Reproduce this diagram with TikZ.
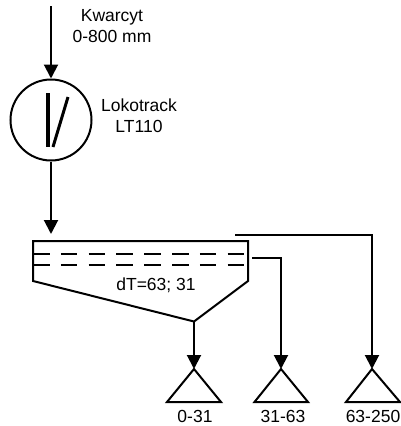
\documentclass[tikz,border=0pt]{standalone}
\usepackage{fontspec}
\setmainfont{Liberation Sans}
\usetikzlibrary{arrows.meta}
\tikzset{
  line/.style={line width=2pt,draw=black,line join=miter},
  flow/.style={line/.try,-{Triangle[length=14pt,width=14pt]}},
  lbl/.style={font=\fontsize{17.5pt}{21pt}\selectfont,inner sep=0pt,align=center,text=black},
  sep/.style={line/.try,dash pattern=on 16.6pt off 11.2pt},
  pile/.style={line/.try}
}
\begin{document}
\begin{tikzpicture}[x=1pt,y=-1pt]
\useasboundingbox (0,0) rectangle (401,426);
\fill[white] (0,0) rectangle (401,426);
% crusher
\coordinate (feed) at (51,6);
\node[line,draw,circle,minimum size=81pt,inner sep=0pt] (crusher) at (51,120) {};
\draw[flow] (feed) -- (crusher.north);
\draw[line width=4pt] (48,93) -- (48,147);
\draw[line width=3pt] (68,97) -- (53,147);
\node[lbl] (kw) at (112,26) {Kwarcyt\\0-800 mm};
\node[lbl] (lt) at (139,116) {Lokotrack\\LT110};
% screen
\coordinate (tl) at (33,241);
\coordinate (tr) at (248,241);
\coordinate (bl) at (33,281);
\coordinate (br) at (248,281);
\coordinate (bot) at (194,321.5);
\draw[line] (bl) -- (tl) -- (tr) -- (br) -- (bot) -- cycle;
\draw[sep] (33,254) -- (247,254);
\draw[sep] (33,265) -- (247,265);
\node[lbl] (dt) at (156,285) {dT=63; 31};
\coordinate (in) at (51,234);
\draw[flow] (crusher.south) -- (in);
% piles
\coordinate (a1) at (194,369);
\coordinate (a2) at (281,369);
\coordinate (a3) at (372,369);
\draw[pile] (a1) -- (167,402) -- (221,402) -- cycle;
\draw[pile] (a2) -- (254.5,402) -- (308,402) -- cycle;
\draw[pile] (a3) -- (346,402) -- (400,402) -- cycle;
\node[lbl] (p1) at (195,416) {0-31};
\node[lbl] (p2) at (283,416) {31-63};
\node[lbl] (p3) at (373,416) {63-250};
% outflows
\coordinate (o2) at (252,258);
\coordinate (o3) at (235,235);
\draw[flow] (bot) -- (a1);
\draw[flow] (o2) -| (a2);
\draw[flow] (o3) -| (a3);
\end{tikzpicture}
\end{document}
